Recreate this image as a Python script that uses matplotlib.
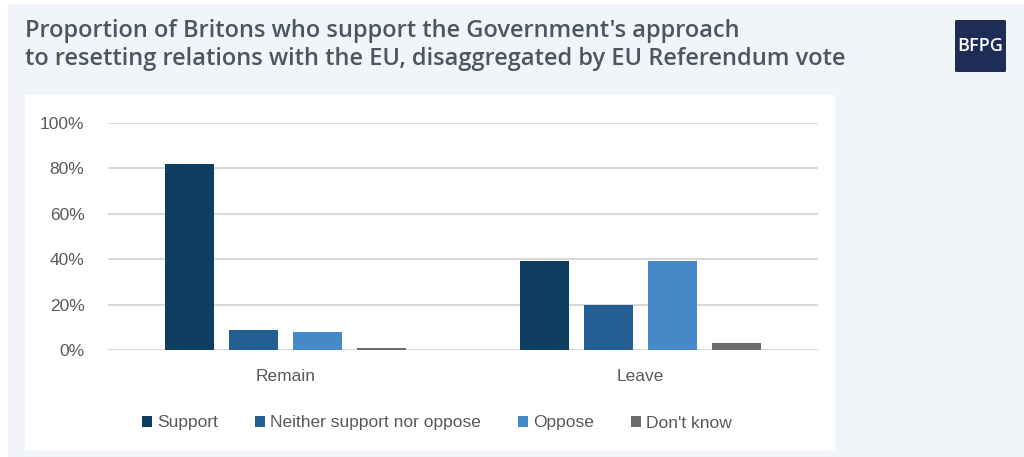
import numpy as np
import matplotlib.pyplot as plt
from matplotlib.patches import Rectangle, FancyBboxPatch
from matplotlib.ticker import PercentFormatter

groups = ['Remain', 'Leave']
series = ['Support', 'Neither support nor oppose', 'Oppose', "Don't know"]
support = [82, 39]
neither = [9, 20]
oppose = [8, 39]
dont_know = [1, 3]
colors = ['#0d3e5f', '#245f93', '#4689c8', '#6b6c6e']

title = ("Proportion of Britons who support the Government's approach\n"
         "to resetting relations with the EU, disaggregated by EU Referendum vote")

W, H = 1024, 457
fig = plt.figure(figsize=(W / 100, H / 100), dpi=100)
fig.patch.set_facecolor('white')

# page background and white chart panel
fig.add_artist(Rectangle((8 / W, 0), 1 - 8 / W, 1 - 4 / H, transform=fig.transFigure,
                         facecolor='#f1f5f9', edgecolor='none', zorder=-3))
fig.add_artist(Rectangle((25 / W, 1 - 451 / H), 810 / W, 356 / H, transform=fig.transFigure,
                         facecolor='white', edgecolor='none', zorder=-2))

fig.text(25 / W, 1 - 19 / H, title, ha='left', va='top', fontsize=17,
         family='Open Sans', fontweight='semibold', color='#4b5661', linespacing=1.22)

# logo
fig.add_artist(FancyBboxPatch((955 / W, 1 - 72 / H), 51 / W, 52 / H,
                              boxstyle='round,pad=0,rounding_size=0.002',
                              transform=fig.transFigure, facecolor='#1d2d55',
                              edgecolor='none'))
fig.text(980.5 / W, 1 - 46 / H, 'BFPG', ha='center', va='center', fontsize=13,
         family='Open Sans', fontweight='semibold', color='white')

ax = fig.add_axes([108 / W, 1 - 350 / H, 710 / W, 227 / H])
ax.set_facecolor('none')

values = [support, neither, oppose, dont_know]
x = np.arange(len(groups))
width = 0.138
step = 0.18
for i, (name, vals) in enumerate(zip(series, values)):
    ax.bar(x + (i - 1.5) * step, vals, width, color=colors[i], label=name, zorder=3)

ax.set_xlim(-0.5, 1.5)
ax.set_ylim(0, 100)
ax.set_yticks(range(0, 101, 20))
ax.yaxis.set_major_formatter(PercentFormatter(decimals=0))
ax.set_xticks(x)
ax.set_xticklabels(groups)
ax.grid(axis='y', color='#d9d9d9', linewidth=1.5, zorder=0)
for s in ax.spines.values():
    s.set_visible(False)
ax.tick_params(axis='both', length=0, labelsize=12.5, labelcolor='#595959')
ax.tick_params(axis='y', pad=17)
ax.tick_params(axis='x', pad=14)
for t in ax.get_xticklabels() + ax.get_yticklabels():
    t.set_family('Liberation Sans')

leg = fig.legend(loc='center', bbox_to_anchor=(437 / W, 1 - 423 / H), ncol=4,
                 frameon=False, handlelength=0.6, handleheight=0.6,
                 handletextpad=0.3, columnspacing=2.1,
                 prop={'family': 'Liberation Sans', 'size': 12.5})
for t in leg.get_texts():
    t.set_color('#595959')

fig.savefig('out.png', dpi=100)
